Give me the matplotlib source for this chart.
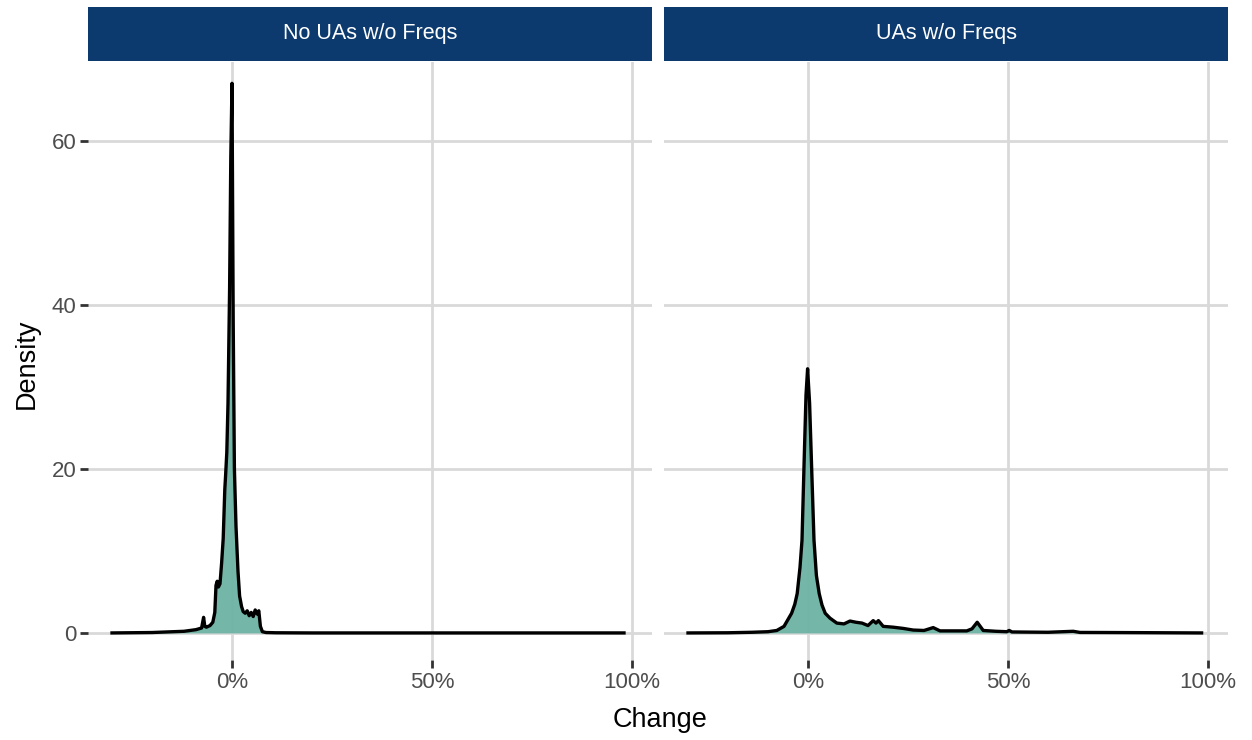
import matplotlib.pyplot as plt
from matplotlib.ticker import FuncFormatter

plt.rcParams['font.family'] = ['Liberation Sans', 'DejaVu Sans']

# density estimates of percentage change, one per facet
panel_titles = ['No UAs w/o Freqs', 'UAs w/o Freqs']

left_x = [-30, -20, -12, -9, -7.6, -7.1, -6.8, -6.4, -5.5, -4.8,
          -4.3, -4.0, -3.7, -3.4, -3.0, -2.6, -2.2, -1.8, -1.6, -1.3,
          -1.0, -0.6, -0.3, 0.0, 0.3, 0.6, 1.0, 1.5, 1.9, 2.4,
          2.8, 3.3, 3.8, 4.3, 4.8, 5.3, 5.8, 6.3, 6.7, 7.1,
          7.6, 8.5, 11, 20, 40, 60, 80, 98]
left_d = [0.0, 0.05, 0.2, 0.4, 0.6, 1.9, 0.8, 0.7, 0.9, 1.3,
          2.5, 5.8, 6.3, 5.6, 6.0, 8.5, 11.5, 17.5, 19.2, 22,
          28, 42, 58, 67, 38, 20, 13, 7.5, 4.5, 3.2,
          2.6, 2.4, 2.7, 2.1, 2.5, 2.0, 2.8, 2.3, 2.7, 0.8,
          0.15, 0.05, 0.02, 0, 0, 0, 0, 0]

right_x = [-30, -20, -14, -10, -7.8, -6, -4.1, -3.3, -2.7, -2.0,
           -1.5, -1.0, -0.5, -0.1, 0.4, 0.9, 1.5, 2.1, 2.8, 3.5,
           4.3, 5.5, 7.2, 9, 10.5, 12, 13.5, 15, 16.3, 17.0,
           17.6, 18.8, 21.3, 23.8, 26.3, 29, 31.3, 33, 36, 39.7,
           41, 42.3, 43.8, 47, 49.7, 50.3, 51, 55, 60, 66.3,
           68, 75, 85, 98.4]
right_d = [0.0, 0.02, 0.08, 0.15, 0.3, 0.8, 2.4, 3.5, 4.8, 8.0,
           11.3, 20.3, 29, 32.2, 28, 20.3, 11.3, 7.0, 4.8, 3.4,
           2.4, 1.8, 1.2, 1.1, 1.45, 1.3, 1.2, 0.9, 1.5, 1.2,
           1.5, 0.8, 0.7, 0.55, 0.35, 0.3, 0.65, 0.25, 0.25, 0.25,
           0.5, 1.3, 0.3, 0.2, 0.15, 0.3, 0.12, 0.1, 0.08, 0.2,
           0.06, 0.05, 0.03, 0.0]

x_ticks = [0, 50, 100]
y_ticks = [0, 20, 40, 60]

fill_col = '#6db3a3'
strip_col = '#0c3a6e'
grid_col = '#d9d9d9'
text_col = '#4d4d4d'

fig = plt.figure(figsize=(12.52, 7.4), dpi=100)
W, H = 1252, 740

def frac(x0, y0, x1, y1):
    return [x0 / W, 1 - y1 / H, (x1 - x0) / W, (y1 - y0) / H]

panels = [(88, 652, left_x, left_d), (664, 1228, right_x, right_d)]
for i, (px0, px1, xs, ds) in enumerate(panels):
    ax = fig.add_axes(frac(px0, 62, px1, 660))
    ax.fill_between(xs, ds, 0, color=fill_col, alpha=0.95, lw=0, zorder=2)
    ax.plot(xs, ds, color='black', lw=2.4, zorder=3, solid_joinstyle='round')
    ax.set_xlim(-36, 105)
    ax.set_ylim(-3.3, 69.6)
    ax.set_xticks(x_ticks)
    ax.set_yticks(y_ticks)
    ax.xaxis.set_major_formatter(FuncFormatter(lambda v, p: f'{v:.0f}%'))
    ax.grid(True, color=grid_col, lw=2.0, zorder=0)
    ax.set_axisbelow(True)
    for s in ax.spines.values():
        s.set_visible(False)
    ax.tick_params(axis='both', length=5.5, width=2.0, color='#333333',
                   labelsize=16, labelcolor=text_col, pad=3)
    if i == 1:
        ax.tick_params(axis='y', left=False, labelleft=False)

    # facet strip
    sax = fig.add_axes(frac(px0, 7, px1, 61))
    sax.set_facecolor(strip_col)
    sax.set_xticks([])
    sax.set_yticks([])
    for s in sax.spines.values():
        s.set_visible(False)
    sax.text(0.5, 0.5, panel_titles[i], color='white', fontsize=15.5,
             ha='center', va='center', transform=sax.transAxes)

fig.text(660 / W, 1 - 720 / H, 'Change', ha='center', va='center',
         fontsize=19.5, color='black')
fig.text(27 / W, 1 - 364 / H, 'Density', ha='center', va='center',
         fontsize=19.5, color='black', rotation=90)

fig.savefig('out.png', dpi=100)
